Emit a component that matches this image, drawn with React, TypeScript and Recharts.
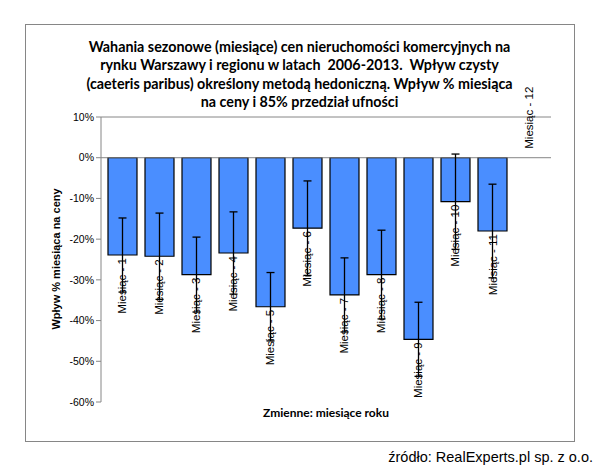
import React from 'react';
import {
  BarChart,
  Bar,
  XAxis,
  YAxis,
  ErrorBar,
  LabelList,
  ReferenceLine,
  ReferenceDot,
} from 'recharts';

// ============================================================================
// DATA
// ============================================================================
const months = [
  'Miesiąc - 1',
  'Miesiąc - 2',
  'Miesiąc - 3',
  'Miesiąc - 4',
  'Miesiąc - 5',
  'Miesiąc - 6',
  'Miesiąc - 7',
  'Miesiąc - 8',
  'Miesiąc - 9',
  'Miesiąc - 10',
  'Miesiąc - 11',
  'Miesiąc - 12',
];

// % impact of month on price (month 12 = reference)
const impact = [-23.9, -24.2, -28.7, -23.4, -36.6, -17.3, -33.7, -28.7, -44.6, -10.8, -18.0, 0];

// half width of the 85% confidence interval
const ci85 = [9.1, 10.6, 9.2, 10.1, 8.4, 11.6, 9.1, 10.9, 9.1, 11.7, 11.5, 0];

const yTicks = [10, 0, -10, -20, -30, -40, -50, -60];

const data = months.map((name, i) => ({ name, value: impact[i], err: ci85[i] }));

const GRAY = '#868686';
const LABEL_FONT = "'Liberation Sans', Arial, sans-serif";

// ============================================================================
// LABELS
// ============================================================================
const rotatedText = (cx: number, ay: number, anchor: 'start' | 'end', text: string) => (
  <text
    x={cx}
    y={ay}
    transform={`rotate(-90 ${cx} ${ay})`}
    textAnchor={anchor}
    dominantBaseline="central"
    fontSize={11.5}
    fontFamily={LABEL_FONT}
    fill="#000"
  >
    {text}
  </text>
);

const BarLabel = (props: any) => {
  const { x, y, width, height, index } = props;
  const v = impact[index];
  if (!v) return null;
  const cx = Number(x) + Number(width) / 2;
  const top = Math.min(Number(y), Number(y) + Number(height));
  const bottom = Math.max(Number(y), Number(y) + Number(height));
  return v < 0
    ? rotatedText(cx, bottom + 3, 'end', months[index])
    : rotatedText(cx, top - 9, 'start', months[index]);
};

// zero-height bar gets no rectangle, so its label hangs on a dot at its value
const ZeroLabel = (props: any) => {
  const vb = props.viewBox || {};
  const cx = Number(vb.x) + Number(vb.width || 0) / 2;
  const cy = Number(vb.y) + Number(vb.height || 0) / 2;
  return rotatedText(cx, cy - 9, 'start', props.text);
};

const App: React.FC = () => {
  const zeroIdx = impact.findIndex((v) => v === 0);
  return (
    <div style={{ position: 'absolute', left: 0, top: 0, width: 595, height: 468, background: '#fff' }}>
      <div
        style={{
          position: 'absolute',
          left: 25,
          top: 24,
          width: 548,
          height: 416,
          border: `1px solid ${GRAY}`,
        }}
      />
      <div
        style={{
          position: 'absolute',
          left: 25,
          top: 38,
          width: 549,
          textAlign: 'center',
          fontFamily: 'Lato, sans-serif',
          fontWeight: 700,
          fontSize: 14.3,
          lineHeight: '18.3px',
          color: '#000',
        }}
      >
        Wahania sezonowe (miesiące) cen nieruchomości komercyjnych na
        <br />
        rynku Warszawy i regionu w latach&nbsp; 2006-2013.&nbsp; Wpływ czysty
        <br />
        (caeteris paribus) określony metodą hedoniczną. Wpływ % miesiąca
        <br />
        na ceny i 85% przedział ufności
      </div>
      <BarChart
        width={595}
        height={468}
        data={data}
        margin={{ top: 117, right: 44, bottom: 66, left: 41 }}
        style={{ position: 'absolute', left: 0, top: 0 }}
      >
        <XAxis
          dataKey="name"
          height={0}
          tick={false}
          tickLine={false}
          axisLine={{ stroke: GRAY }}
          padding={{ left: 3, right: 3 }}
        />
        <YAxis
          type="number"
          domain={[-60, 10]}
          ticks={yTicks}
          width={60}
          tickSize={5}
          tickLine={{ stroke: GRAY }}
          axisLine={{ stroke: GRAY }}
          tick={{ fontSize: 10.5, fill: '#000', fontFamily: LABEL_FONT }}
          tickFormatter={(v: number) => `${v}%`}
          interval={0}
        />
        <YAxis
          yAxisId="r"
          orientation="right"
          type="number"
          domain={[-60, 10]}
          width={0}
          tick={false}
          tickLine={false}
          axisLine={{ stroke: GRAY }}
        />
        <ReferenceLine y={10} stroke={GRAY} />
        <ReferenceLine y={0} stroke={GRAY} />
        <Bar dataKey="value" fill="#4A8EFF" stroke="#000" strokeWidth={1.2} barSize={29} isAnimationActive={false}>
          <ErrorBar dataKey="err" width={4} stroke="#000" strokeWidth={1.3} direction="y" />
          <LabelList dataKey="name" content={BarLabel} />
        </Bar>
        {zeroIdx >= 0 && (
          <ReferenceDot
            x={months[zeroIdx]}
            y={impact[zeroIdx]}
            r={0}
            fill="none"
            stroke="none"
            label={<ZeroLabel text={months[zeroIdx]} />}
          />
        )}
      </BarChart>
      <div
        style={{
          position: 'absolute',
          left: 56,
          top: 259,
          transform: 'translate(-50%, -50%) rotate(-90deg)',
          whiteSpace: 'nowrap',
          fontFamily: LABEL_FONT,
          fontWeight: 700,
          fontSize: 11,
          color: '#000',
        }}
      >
        Wpływ % miesiąca na ceny
      </div>
      <div
        style={{
          position: 'absolute',
          left: 226,
          width: 200,
          top: 405,
          textAlign: 'center',
          fontFamily: 'Lato, sans-serif',
          fontWeight: 700,
          fontSize: 12,
          color: '#000',
        }}
      >
        Zmienne: miesiące roku
      </div>
      <div
        style={{
          position: 'absolute',
          right: 2,
          top: 449,
          whiteSpace: 'nowrap',
          fontFamily: LABEL_FONT,
          fontSize: 14.5,
          color: '#000',
        }}
      >
        źródło: RealExperts.pl sp. z o.o.
      </div>
    </div>
  );
};

export default App;
